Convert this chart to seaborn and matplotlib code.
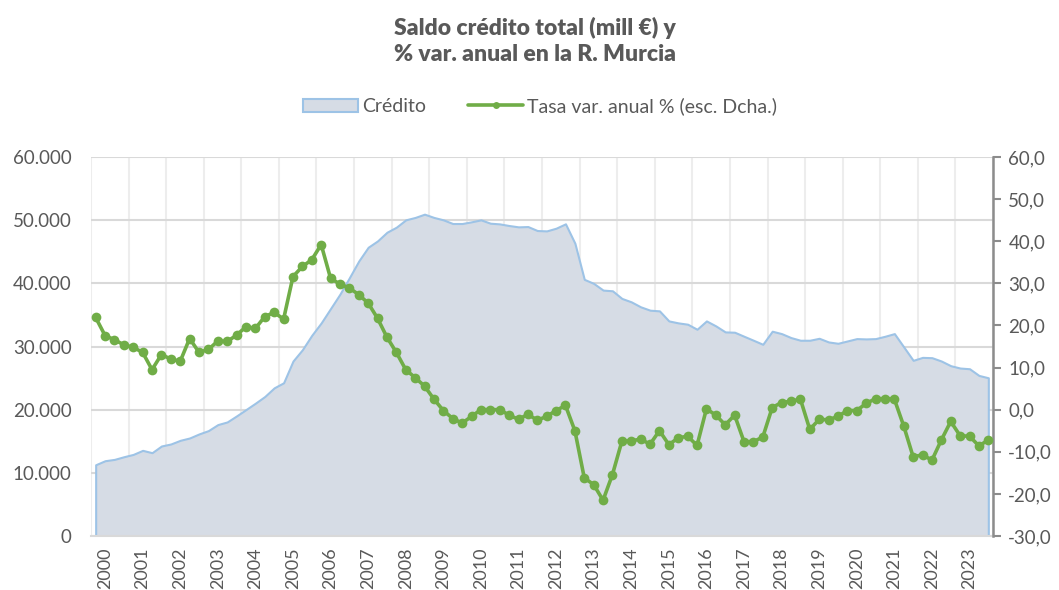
import numpy as np
import pandas as pd
import matplotlib
matplotlib.use('Agg')
import matplotlib.pyplot as plt
import seaborn as sns
from matplotlib.ticker import FuncFormatter
from matplotlib.lines import Line2D
from matplotlib.patches import Patch

# Data: quarterly, 2000 Q1 - 2023 Q4
years = list(range(2000, 2024))

credito = [
    11280, 11920, 12130, 12550, 12920, 13560, 13190, 14250,
    14570, 15150, 15520, 16160, 16690, 17640, 18060, 19020,
    20020, 21030, 22090, 23460, 24260, 27700, 29500, 31780,
    33740, 36020, 38300, 40890, 43540, 45710, 46720, 48090,
    48890, 50050, 50430, 50950, 50430, 50050, 49470, 49470,
    49740, 50050, 49520, 49410, 49150, 48940, 48990, 48360,
    48300, 48730, 49420, 46350, 40630, 39990, 38930, 38820,
    37610, 37070, 36280, 35750, 35640, 34050, 33740, 33530,
    32730, 34050, 33260, 32310, 32260, 31620, 30990, 30350,
    32420, 32040, 31410, 30990, 30990, 31300, 30720, 30510,
    30880, 31250, 31200, 31250, 31620, 32040, 29930, 27810,
    28280, 28230, 27700, 26960, 26590, 26480, 25420, 25050,
]

tasa = [
    21.9, 17.6, 16.6, 15.4, 14.8, 13.6, 9.5, 13.1,
    12.0, 11.5, 16.9, 13.6, 14.3, 16.3, 16.2, 17.7,
    19.7, 19.3, 22.1, 23.1, 21.5, 31.6, 34.0, 35.6,
    39.2, 31.2, 29.8, 28.9, 27.3, 25.3, 21.7, 17.2,
    13.6, 9.5, 7.6, 5.6, 2.5, -0.2, -2.1, -3.2,
    -1.6, 0.0, 0.0, 0.0, -1.3, -2.3, -1.1, -2.5,
    -1.6, -0.2, 1.0, -5.0, -16.2, -17.8, -21.5, -15.4,
    -7.5, -7.4, -7.0, -8.2, -5.0, -8.3, -6.7, -6.3,
    -8.5, 0.2, -1.3, -3.6, -1.3, -7.6, -7.6, -6.5,
    0.5, 1.7, 2.0, 2.5, -4.7, -2.3, -2.4, -1.6,
    -0.2, -0.2, 1.5, 2.6, 2.6, 2.5, -3.9, -11.2,
    -10.7, -12.0, -7.2, -2.8, -6.2, -6.3, -8.6, -7.2,
]

df = pd.DataFrame({'q': np.arange(len(credito)), 'credito': credito, 'tasa': tasa})

sns.set_style('white')
plt.rcParams['font.family'] = ['Lato', 'DejaVu Sans']

txt = '#595959'
fill_c = '#D6DCE5'
edge_c = '#9DC3E6'
green = '#70AD47'

fig = plt.figure(figsize=(10.59, 5.90), dpi=100)
ax = fig.add_axes([0.0859, 0.0915, 0.8518, 0.6424])
ax2 = ax.twinx()

# Area (left axis)
ax.fill_between(df['q'], df['credito'], 0, facecolor=fill_c, edgecolor=edge_c, linewidth=1.5, zorder=2)
ax.set_xlim(-0.5, len(credito) - 0.5)
ax.set_ylim(0, 60000)
ax.set_yticks(range(0, 60001, 10000))
ax.yaxis.set_major_formatter(FuncFormatter(lambda v, p: f'{int(v):,}'.replace(',', '.')))

# Year boundaries -> ticks and vertical grid; labels offset
ax.set_xticks([4 * i - 0.5 for i in range(len(years) + 1)])
ax.set_xticklabels([])
ax.set_xticks([4 * i + 1 for i in range(len(years))], minor=True)
ax.set_xticklabels([str(y) for y in years], minor=True, rotation=90, color=txt, fontsize=13)
ax.tick_params(axis='x', which='minor', length=0, pad=8)
ax.tick_params(axis='x', which='major', length=5, color='#D9D9D9', width=1.2)
ax.tick_params(axis='y', length=0, labelsize=13.5, labelcolor=txt, pad=14)

ax.set_axisbelow(True)
ax.grid(axis='y', color='#D9D9D9', linewidth=1.5)
ax.grid(axis='x', which='major', color='#EDEDED', linewidth=1.5)
for s in ['top', 'right', 'left']:
    ax.spines[s].set_visible(False)
ax.spines['bottom'].set_color('#D9D9D9')
ax.spines['bottom'].set_linewidth(1.5)

# Line (right axis)
sns.lineplot(data=df, x='q', y='tasa', ax=ax2, color=green, linewidth=2.6,
             marker='o', markersize=7, markeredgewidth=0, zorder=3)
ax2.set_ylim(-30, 60)
ax2.set_yticks(range(-30, 61, 10))
ax2.yaxis.set_major_formatter(FuncFormatter(lambda v, p: f'{v:.1f}'.replace('.', ',')))
ax2.tick_params(axis='y', length=6, width=1.5, color='#8C8C8C', labelsize=13.5, labelcolor=txt, pad=5)
ax2.set_xlabel('')
ax2.set_ylabel('')
ax.set_xlabel('')
ax.set_ylabel('')
for s in ['top', 'left', 'bottom']:
    ax2.spines[s].set_visible(False)
ax2.spines['right'].set_color('#8C8C8C')
ax2.spines['right'].set_linewidth(1.8)

# Title
fig.text(0.505, 0.972, 'Saldo crédito total (mill €) y\n% var. anual en la R. Murcia',
         ha='center', va='top', fontsize=16.5, fontweight='heavy', color=txt, linespacing=1.3)

# Legend
handles = [Patch(facecolor=fill_c, edgecolor=edge_c, linewidth=1.5),
           Line2D([0], [0], color=green, linewidth=2.6, marker='o', markersize=5, markeredgewidth=0)]
fig.legend(handles, ['Crédito', 'Tasa var. anual % (esc. Dcha.)'], loc='center',
           bbox_to_anchor=(0.51, 0.82), ncol=2, frameon=False, fontsize=14,
           labelcolor=txt, handlelength=2.8, handletextpad=0.2, columnspacing=2.2)

fig.savefig('out.png', dpi=100)
